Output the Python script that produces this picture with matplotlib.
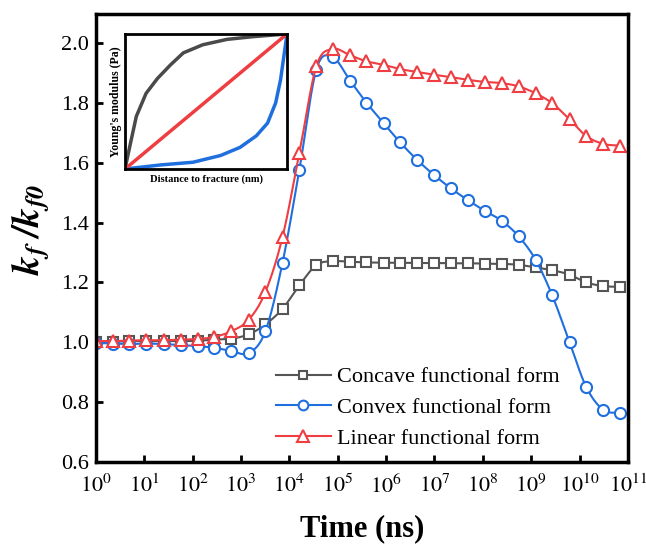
import numpy as np
import matplotlib.pyplot as plt

plt.rcParams['font.family'] = ['Liberation Serif', 'DejaVu Serif']
plt.rcParams['mathtext.fontset'] = 'stix'

# time points (ns), shared by all three series
t = [1.0, 2.2, 4.8, 10.7, 25, 56, 126, 275, 630, 1.45e3, 3.2e3, 7.2e3,
     1.6e4, 3.6e4, 7.8e4, 1.8e5, 3.9e5, 8.9e5, 1.95e6, 4.4e6, 9.8e6, 2.2e7,
     4.9e7, 1.1e8, 2.45e8, 5.5e8, 1.23e9, 2.7e9, 6.2e9, 1.38e10, 3.1e10, 6.8e10]

concave = [1.001, 1.002, 1.004, 1.004, 1.004, 1.004, 1.005, 1.009, 1.012, 1.027,
           1.060, 1.112, 1.190, 1.258, 1.271, 1.269, 1.267, 1.266, 1.266, 1.265,
           1.265, 1.264, 1.264, 1.263, 1.262, 1.259, 1.250, 1.241, 1.226, 1.200,
           1.188, 1.185]
convex = [0.998, 0.996, 0.994, 0.996, 0.994, 0.991, 0.987, 0.982, 0.971, 0.964,
          1.038, 1.266, 1.575, 1.911, 1.953, 1.874, 1.801, 1.732, 1.668, 1.609,
          1.559, 1.514, 1.475, 1.439, 1.406, 1.354, 1.276, 1.158, 1.001, 0.850,
          0.774, 0.764]
linear = [1.004, 1.004, 1.006, 1.007, 1.007, 1.009, 1.011, 1.018, 1.037, 1.076,
          1.169, 1.352, 1.631, 1.922, 1.980, 1.959, 1.939, 1.927, 1.913, 1.903,
          1.894, 1.886, 1.877, 1.870, 1.866, 1.855, 1.832, 1.799, 1.745, 1.689,
          1.663, 1.657]

labels = ['Concave functional form', 'Convex functional form', 'Linear functional form']
colors = ['#555555', '#1f6fdf', '#ef3e42']
markers = ['s', 'o', '^']
msizes = [7, 8, 9]

# inset sketch (normalised distance / modulus)
ins_u_concave = [0, 0.03, 0.07, 0.13, 0.2, 0.28, 0.36, 0.48, 0.63, 0.79, 1.0]
ins_v_concave = [0, 0.17, 0.39, 0.56, 0.67, 0.77, 0.86, 0.92, 0.96, 0.98, 1.0]
ins_u_convex = [0, 0.22, 0.42, 0.59, 0.71, 0.81, 0.88, 0.93, 0.96, 0.98, 1.0]
ins_v_convex = [0, 0.03, 0.05, 0.10, 0.16, 0.245, 0.34, 0.49, 0.66, 0.83, 1.0]
ins_u_linear = [0, 1]
ins_v_linear = [0, 1]


def smooth(xs, ys, n=12):
    # catmull-rom through the points, only for drawing the connecting line
    xs = np.asarray(xs, float)
    ys = np.asarray(ys, float)
    px = np.concatenate([[2 * xs[0] - xs[1]], xs, [2 * xs[-1] - xs[-2]]])
    py = np.concatenate([[2 * ys[0] - ys[1]], ys, [2 * ys[-1] - ys[-2]]])
    ox, oy = [], []
    s = np.linspace(0, 1, n, endpoint=False)
    for i in range(1, len(px) - 2):
        for arr, out in ((px, ox), (py, oy)):
            p0, p1, p2, p3 = arr[i - 1], arr[i], arr[i + 1], arr[i + 2]
            out.extend(0.5 * (2 * p1 + (-p0 + p2) * s + (2 * p0 - 5 * p1 + 4 * p2 - p3) * s ** 2
                              + (-p0 + 3 * p1 - 3 * p2 + p3) * s ** 3))
    ox.append(xs[-1])
    oy.append(ys[-1])
    return np.array(ox), np.array(oy)


fig = plt.figure(figsize=(6.46, 5.46), dpi=100)
ax = fig.add_axes([0.1486, 0.1538, 0.8234, 0.8206])

lt = np.log10(t)
for ys, lab, c, m, ms in zip([concave, convex, linear], labels, colors, markers, msizes):
    sx, sy = smooth(lt, ys)
    ax.plot(10 ** sx, sy, color=c, lw=1.5)
    ax.plot(t, ys, ls='none', marker=m, ms=ms, mfc='white', mec=c, mew=1.5)
    ax.plot([], [], color=c, lw=1.5, marker=m, ms=ms - 1, mfc='white', mec=c, mew=1.5, label=lab)

ax.set_xscale('log')
ax.set_xlim(1, 1e11)
ax.set_ylim(0.6, 2.097)
ax.set_xticks([10 ** k for k in range(12)])
ax.set_xticklabels([r'$10^{%d}$' % k for k in range(12)])
ax.xaxis.set_minor_locator(plt.NullLocator())
ax.set_yticks(np.arange(0.6, 2.01, 0.2))
ax.set_yticklabels(['%.1f' % v for v in np.arange(0.6, 2.01, 0.2)])
ax.tick_params(direction='in', length=5, width=2, labelsize=16, top=False, right=False)
ax.tick_params(axis='x', pad=9)
ax.tick_params(axis='y', pad=5)
for sp in ax.spines.values():
    sp.set_linewidth(2.5)

ax.set_xlabel('Time (ns)', fontsize=22, fontweight='bold', labelpad=12)
ax.set_ylabel(r'$\mathbfit{k_f\;/k_{f0}}$', fontsize=27)
ax.yaxis.set_label_coords(-0.085, 0.52)

ax.legend(loc='upper left', bbox_to_anchor=(0.300, 0.257), frameon=False, fontsize=16,
          handlelength=2.5, handletextpad=0.25, labelspacing=0.45)

ins = fig.add_axes([0.1935, 0.6905, 0.2508, 0.2473])
ins.plot(ins_u_concave, ins_v_concave, color='#4a4a4a', lw=2.5)
ins.plot(ins_u_convex, ins_v_convex, color='#1f6fdf', lw=2.5)
ins.plot(ins_u_linear, ins_v_linear, color='#ef3e42', lw=2.5)
ins.set_xlim(0, 1)
ins.set_ylim(0, 1)
ins.set_xticks([])
ins.set_yticks([])
for sp in ins.spines.values():
    sp.set_linewidth(2)
ins.set_xlabel('Distance to fracture (nm)', fontsize=7.6, fontweight='bold', labelpad=4)
ins.set_ylabel("Young's modulus (Pa)", fontsize=8.5, fontweight='bold', labelpad=2)

fig.savefig('out.png', dpi=100)
